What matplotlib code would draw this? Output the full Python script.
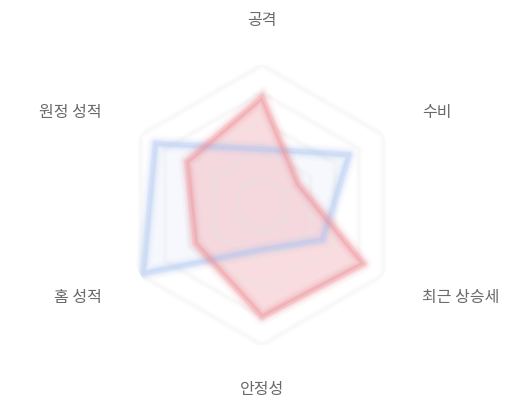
import numpy as np
import matplotlib
matplotlib.use("Agg")
import matplotlib.pyplot as plt

plt.rcParams['font.family'] = ['Noto Sans CJK KR', 'DejaVu Sans']

labels = ['공격', '수비', '최근 상승세', '안정성', '홈 성적', '원정 성적']
team_red = [77, 30, 84, 80, 55, 62]
team_blue = [40, 72, 50, 32, 98, 88]
rings = [20, 40, 60, 80, 100]

n = len(labels)
angles = np.linspace(0, 2 * np.pi, n, endpoint=False)
ang_c = np.append(angles, angles[0])

fig = plt.figure(figsize=(5.2, 4.0), dpi=100)
ax = fig.add_axes([0.2346, 0.1375, 0.5385, 0.7], polar=True)
ax.set_theta_offset(np.pi / 2)
ax.set_theta_direction(-1)
ax.set_ylim(0, 100)
ax.grid(False)
ax.set_xticks([])
ax.set_yticks([])
ax.spines['polar'].set_visible(False)

# barely visible hexagon grid
for r in rings:
    for w, a in [(5, 0.1), (2, 0.18)]:
        ax.plot(ang_c, [r] * (n + 1), color='#e8e8e8', lw=w, alpha=a)


def blurry(vals, line, fill, fill_alpha):
    v = np.append(vals, vals[0])
    ax.fill(ang_c, v, color=fill, alpha=fill_alpha, lw=0)
    # fake blur with stacked strokes
    for w, a in [(12, 0.05), (9, 0.08), (6.5, 0.12), (4.5, 0.18), (3, 0.22)]:
        ax.plot(ang_c, v, color=line, lw=w, alpha=a, solid_joinstyle='round')


blurry(team_blue, '#a9c3f2', '#e3ebfb', 0.3)
blurry(team_red, '#ef8a93', '#f2a9b0', 0.4)

for a, lab in zip(angles, labels):
    s = np.sin(a)
    if abs(s) < 0.1:
        ha = 'center'
    elif s > 0:
        ha = 'left'
    else:
        ha = 'right'
    ax.text(a, 132, lab, ha=ha, va='center', fontsize=11.5, color='#6a6a6a')

fig.savefig('out.png', dpi=100)
